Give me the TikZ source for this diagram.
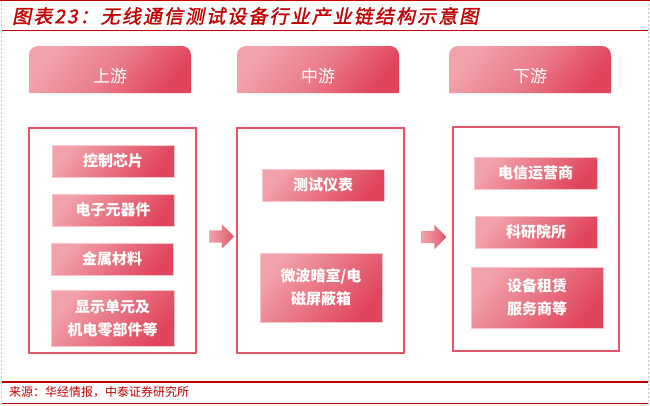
\documentclass[tikz,border=0pt]{standalone}
\usepackage{fontspec}
\newfontfamily\cjk{Noto Sans CJK SC}
\newfontfamily\titlefont[FakeSlant=0.2,FakeBold=1.5,LetterSpace=11]{Noto Sans CJK SC}
\usetikzlibrary{shapes.arrows}
\definecolor{hdred}{HTML}{C00000}
\definecolor{pinkL}{HTML}{F2A2AA}
\definecolor{redD}{HTML}{E0455C}
\definecolor{boxline}{HTML}{E2566A}
\definecolor{itemline}{HTML}{F7C6CD}
\begin{document}
\begin{tikzpicture}[x=1pt, y=-1pt,
    tabfill/.style={top color=pinkL, bottom color=redD, middle color=pinkL!60!redD, shading angle=50},
    tablbl/.style={text=white, font=\cjk\fontsize{17}{20}\selectfont},
    chain/.style={rectangle, draw=boxline, line width=1.4pt, fill=white},
    item/.style={rectangle, draw=itemline, line width=0.8pt, top color=pinkL, bottom color=redD, shading angle=50, text=white, align=center, inner sep=0pt, font=\cjk\bfseries\fontsize{15}{23}\selectfont},
    flow/.style={single arrow, single arrow head extend=6pt, single arrow head indent=0pt, minimum height=25pt, minimum width=24pt, inner xsep=0pt, inner ysep=6pt, left color=pinkL, right color=redD!90}
]
    \useasboundingbox (0,0) rectangle (650,405);
    % frame lines
    \draw[gray!45, dash pattern=on 2pt off 2pt] (1,0) -- (1,405);
    \draw[gray!45, dash pattern=on 2pt off 2pt] (648,0) -- (648,405);
    \draw[hdred, line width=1pt] (0,0.5) -- (650,0.5);
    \draw[hdred, line width=1.2pt] (2,30.5) -- (648,30.5);
    \draw[hdred, line width=2pt] (2,382) -- (648,382);
    \draw[hdred, line width=1pt] (2,403) -- (648,403);
    \node[anchor=west, text=hdred, font=\titlefont\fontsize{19}{22}\selectfont, inner sep=0pt] (title) at (12,16) {图表23：无线通信测试设备行业产业链结构示意图};
    \node[anchor=west, text=hdred, font=\cjk\fontsize{12}{14}\selectfont, inner sep=0pt] (src) at (9,392) {来源：华经情报，中泰证券研究所};

    % stage headers
    \foreach \n/\x/\t in {up/29/上游, mid/237/中游, down/449/下游} {
        \shade[tabfill] (\x,93) [rounded corners=9pt] -- (\x,46) -- (\x+162,46) [sharp corners] -- (\x+162,93) -- cycle;
        \node[tablbl] (tab\n) at (\x+81,76) {\t};
    }

    % chain boxes
    \node[chain, minimum width=167pt, minimum height=225pt] (boxup) at (112.5,240.5) {};
    \node[chain, minimum width=167pt, minimum height=225pt] (boxmid) at (320.5,240.5) {};
    \node[chain, minimum width=166pt, minimum height=224pt] (boxdown) at (536,239) {};

    % items
    \foreach \n/\x/\y/\w/\h/\t in {
        up1/113/161/122/32/{控制芯片},
        up2/113/210/122/32/{电子元器件},
        up3/112/259/122/32/{金属材料},
        up4/112.5/318/123/56/{显示单元及\\机电零部件等},
        mid1/323/185/122/32/{测试仪表},
        mid2/321/287.5/122/69/{微波暗室/电\\磁屏蔽箱},
        down1/535.5/173/123/32/{电信运营商},
        down2/536/232/122/32/{科研院所},
        down3/537/297.5/132/61/{设备租赁\\服务商等}} {
        \node[item, minimum width=\w pt, minimum height=\h pt] (\n) at (\x,\y) {\t};
    }

    % arrows between stages
    \node[flow] (arr1) at (218.5,236.5) {};
    \node[flow] (arr2) at (431,237) {};
\end{tikzpicture}
\end{document}
